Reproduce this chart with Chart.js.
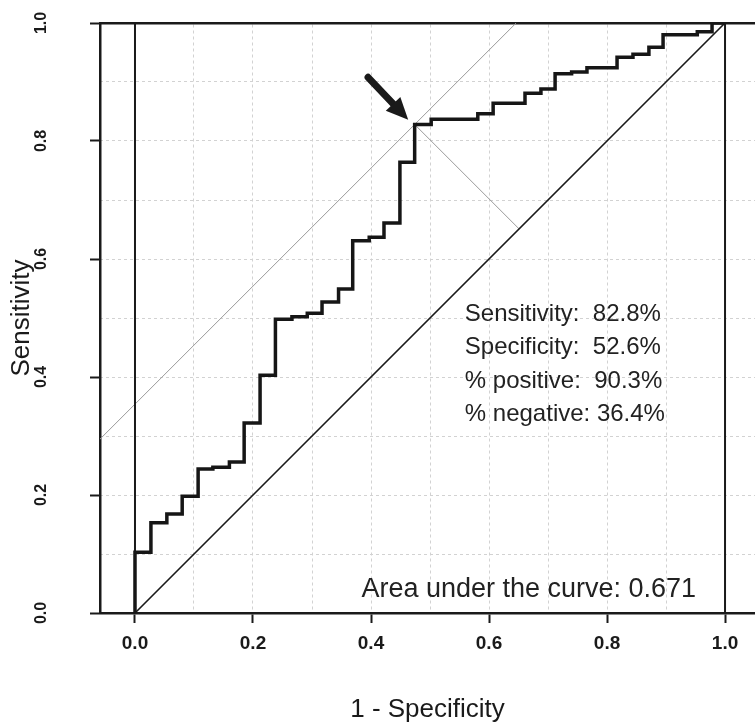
<!DOCTYPE html>
<html>
<head>
<meta charset="utf-8">
<script src="https://cdn.jsdelivr.net/npm/chart.js@4.4.1/dist/chart.umd.min.js"></script>
<style>
  html, body { margin: 0; padding: 0; background: #fff; }
  #wrap { width: 755px; height: 725px; position: relative; }
</style>
</head>
<body>
<div id="wrap"><canvas id="roc"></canvas></div>
<script>
// ROC steps: 1 - specificity and sensitivity after each step
const fpr = [0, 0, 0.027, 0.054, 0.080, 0.107, 0.132, 0.160, 0.185, 0.212, 0.238, 0.266, 0.292, 0.317,
  0.345, 0.369, 0.397, 0.422, 0.449, 0.474, 0.502, 0.581, 0.607, 0.661, 0.688, 0.712, 0.740, 0.766,
  0.817, 0.844, 0.871, 0.895, 0.953, 0.978, 1.0]
const tpr = [0, 0.103, 0.153, 0.168, 0.198, 0.244, 0.247, 0.256, 0.322, 0.403, 0.498, 0.502, 0.508, 0.527,
  0.549, 0.631, 0.637, 0.661, 0.764, 0.828, 0.837, 0.846, 0.864, 0.881, 0.888, 0.914, 0.917, 0.924,
  0.942, 0.947, 0.959, 0.980, 0.985, 1.0, 1.0]

const xTicks = [0, 0.2, 0.4, 0.6, 0.8, 1.0]
const yTicks = [0, 0.2, 0.4, 0.6, 0.8, 1.0]
const gridVals = [0, 0.1, 0.2, 0.3, 0.4, 0.5, 0.6, 0.7, 0.8, 0.9, 1.0]

const chanceLine = [[0, 0], [1, 1]]
const edgeLeft = [[0, 0], [0, 1]]
const edgeRight = [[1, 0], [1, 1]]
const youdenLine = [[-0.06, 0.294], [0.646, 1.0]]
const perpLine = [[0.474, 0.828], [0.651, 0.651]]
const arrowFrom = [0.395, 0.908]
const arrowTo = [0.463, 0.836]

const statLabels = ['Sensitivity:  82.8%', 'Specificity:  52.6%', '% positive:  90.3%', '% negative: 36.4%']
const aucLabel = 'Area under the curve: 0.671'

const toPts = arr => arr.map(p => ({x: p[0], y: p[1]}))
const rocPts = fpr.map((x, i) => ({x: x, y: tpr[i]}))

const FONT = "'Liberation Sans', Arial, sans-serif"
const NARROW = "'Liberation Sans Narrow', 'Liberation Sans', Arial, sans-serif"

const notes = {
  id: 'notes',
  afterDatasetsDraw(chart) {
    const ctx = chart.ctx, xs = chart.scales.x, ys = chart.scales.y
    ctx.save()
    // arrow to the chosen cut-off
    const x1 = xs.getPixelForValue(arrowFrom[0]), y1 = ys.getPixelForValue(arrowFrom[1])
    const x2 = xs.getPixelForValue(arrowTo[0]), y2 = ys.getPixelForValue(arrowTo[1])
    const ang = Math.atan2(y2 - y1, x2 - x1)
    const hl = 22, hw = 10
    const bx = x2 - hl * Math.cos(ang), by = y2 - hl * Math.sin(ang)
    ctx.strokeStyle = '#1a1a1a'
    ctx.fillStyle = '#1a1a1a'
    ctx.lineWidth = 7
    ctx.lineCap = 'round'
    ctx.beginPath()
    ctx.moveTo(x1, y1)
    ctx.lineTo(bx + 4 * Math.cos(ang), by + 4 * Math.sin(ang))
    ctx.stroke()
    ctx.beginPath()
    ctx.moveTo(x2, y2)
    ctx.lineTo(bx + hw * Math.sin(ang), by - hw * Math.cos(ang))
    ctx.lineTo(bx - hw * Math.sin(ang), by + hw * Math.cos(ang))
    ctx.closePath()
    ctx.fill()

    // text
    ctx.fillStyle = '#222'
    ctx.textBaseline = 'middle'
    ctx.textAlign = 'left'
    ctx.font = '24px ' + FONT
    const sx = xs.getPixelForValue(0.559)
    statLabels.forEach((t, i) => {
      ctx.fillText(t, sx, ys.getPixelForValue(0.506 - i * 0.0565))
    })
    ctx.font = '27px ' + FONT
    ctx.textAlign = 'right'
    ctx.fillText(aucLabel, xs.getPixelForValue(0.951), ys.getPixelForValue(0.039))
    ctx.restore()
  }
}

const thinLine = (pts, color, w, order) => ({
  data: toPts(pts), showLine: true, borderColor: color, borderWidth: w,
  pointRadius: 0, order: order
})

new Chart(document.getElementById('roc'), {
  type: 'scatter',
  data: {
    datasets: [
      {
        data: rocPts, showLine: true, stepped: 'before', borderColor: '#161616',
        borderWidth: 3.5, pointRadius: 0, order: 0
      },
      thinLine(chanceLine, '#1a1a1a', 1.6, 1),
      thinLine(edgeLeft, '#1a1a1a', 2, 1),
      thinLine(edgeRight, '#1a1a1a', 2, 1),
      thinLine(youdenLine, '#9a9a9a', 1, 2),
      thinLine(perpLine, '#9a9a9a', 1, 2)
    ]
  },
  options: {
    responsive: true,
    maintainAspectRatio: false,
    animation: false,
    layout: { padding: { top: 23, right: 0, left: 0, bottom: 0 } },
    plugins: { legend: { display: false }, tooltip: { enabled: false } },
    scales: {
      x: {
        type: 'linear', position: 'bottom', min: -0.0593, max: 1.0508,
        afterBuildTicks: s => { s.ticks = xTicks.map(v => ({value: v})) },
        afterFit: s => { s.height = 112; s.paddingLeft = 0; s.paddingRight = 0 },
        grid: { drawOnChartArea: false, drawTicks: true, tickLength: 10, tickColor: '#1a1a1a', tickWidth: 2 },
        border: { display: true, color: '#1a1a1a', width: 2.5 },
        ticks: {
          color: '#1a1a1a', padding: 9, maxRotation: 0,
          font: { family: FONT, size: 19, weight: 'bold' },
          callback: v => v.toFixed(1)
        },
        title: {
          display: true, text: '1 - Specificity', color: '#1a1a1a',
          font: { family: FONT, size: 26 }, padding: { top: 0, bottom: 0 }
        }
      },
      y: {
        type: 'linear', position: 'left', min: 0, max: 1,
        afterBuildTicks: s => { s.ticks = yTicks.map(v => ({value: v})) },
        afterFit: s => { s.width = 100; s.paddingTop = 0; s.paddingBottom = 0 },
        grid: { drawOnChartArea: false, drawTicks: true, tickLength: 10, tickColor: '#1a1a1a', tickWidth: 2 },
        border: { display: true, color: '#1a1a1a', width: 2.5 },
        ticks: {
          color: '#1a1a1a', padding: 37, minRotation: 90, maxRotation: 90, crossAlign: 'center',
          font: { family: NARROW, size: 16, weight: 'bold' },
          callback: v => v.toFixed(1)
        },
        title: {
          display: true, text: 'Sensitivity', color: '#1a1a1a',
          font: { family: FONT, size: 26 }, padding: { top: 6, bottom: 0 }
        }
      },
      xg: {
        type: 'linear', position: 'top', min: -0.0593, max: 1.0508,
        afterBuildTicks: s => { s.ticks = gridVals.map(v => ({value: v})) },
        afterFit: s => { s.height = 0 },
        grid: { drawTicks: false, color: '#d2d2d2', lineWidth: 1 },
        border: { display: true, color: '#1a1a1a', width: 2.5, dash: [3, 3] },
        ticks: { display: false }
      },
      yg: {
        type: 'linear', position: 'right', min: 0, max: 1,
        afterBuildTicks: s => { s.ticks = gridVals.map(v => ({value: v})) },
        afterFit: s => { s.width = 0; s.paddingTop = 0; s.paddingBottom = 0 },
        grid: { drawTicks: false, color: '#d2d2d2', lineWidth: 1 },
        border: { display: false, dash: [3, 3] },
        ticks: { display: false }
      }
    }
  },
  plugins: [notes]
})
</script>
</body>
</html>
